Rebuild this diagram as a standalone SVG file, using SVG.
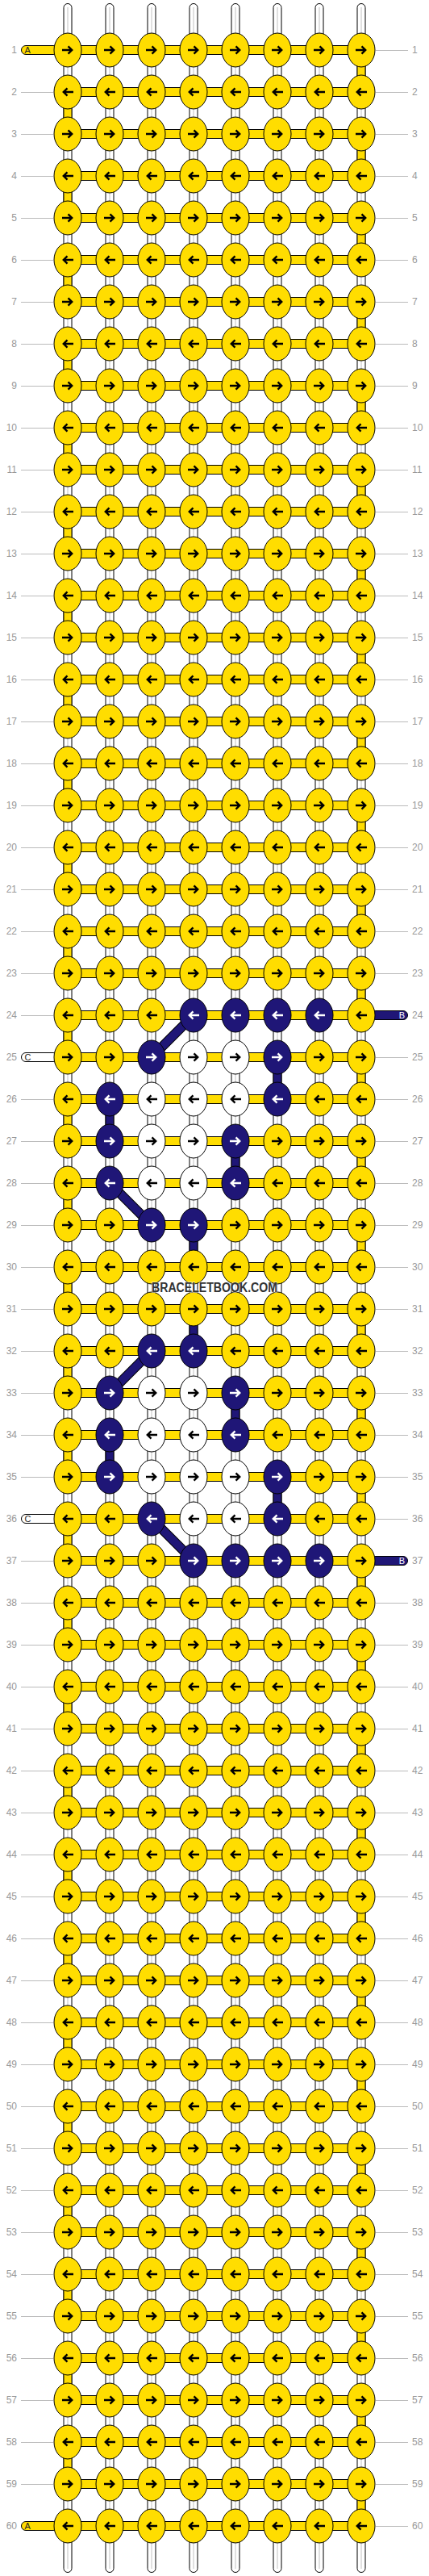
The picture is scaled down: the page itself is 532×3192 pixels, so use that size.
<svg xmlns="http://www.w3.org/2000/svg" xmlns:xlink="http://www.w3.org/1999/xlink" width="532" height="3192" viewBox="0 0 532 3192">
<style>
.ey{fill:#ffdd00;stroke:#000;stroke-width:1}
.en{fill:#1f1677;stroke:#000;stroke-width:1}
.ew{fill:#fff;stroke:#000;stroke-width:1}
.ak{fill:none;stroke:#000;stroke-width:2.4}
.aw{fill:none;stroke:#fff;stroke-width:2.4}
.st{fill:#fff;stroke:#000;stroke-width:1}
.sg{stroke:#cccccc;stroke-width:1.2}
.cy{fill:#ffdd00;stroke:#000;stroke-width:1}
.cn{fill:#1f1677;stroke:#000;stroke-width:1}
.gl{stroke:#bbb;stroke-width:1;fill:none}
.lb{font-family:"Liberation Sans",Arial,sans-serif;font-size:12px;fill:#999}
.le{text-anchor:end}
.ld{font-family:"Liberation Sans",Arial,sans-serif;font-size:11px}
</style>
<defs>
<path id="ar" d="M-7 0H5M0.5 -4.6L5.2 0L0.5 4.6"/>
<g id="YR"><ellipse class="ey" rx="17" ry="21"/><use href="#ar" class="ak"/></g>
<g id="YL"><ellipse class="ey" rx="17" ry="21"/><use href="#ar" class="ak" transform="scale(-1 1)"/></g>
<g id="NR"><ellipse class="en" rx="17" ry="21"/><use href="#ar" class="aw"/></g>
<g id="NL"><ellipse class="en" rx="17" ry="21"/><use href="#ar" class="aw" transform="scale(-1 1)"/></g>
<g id="WR"><ellipse class="ew" rx="17" ry="21"/><use href="#ar" class="ak"/></g>
<g id="WL"><ellipse class="ew" rx="17" ry="21"/><use href="#ar" class="ak" transform="scale(-1 1)"/></g>
</defs>
<rect width="532" height="3192" fill="#fff"/>
<g id="connectors">
<g id="strands">
<rect class="st" x="79" y="4.5" width="10" height="3183" rx="5"/><rect class="st" x="131" y="4.5" width="10" height="3183" rx="5"/><rect class="st" x="183" y="4.5" width="10" height="3183" rx="5"/><rect class="st" x="235" y="4.5" width="10" height="3183" rx="5"/><rect class="st" x="287" y="4.5" width="10" height="3183" rx="5"/><rect class="st" x="339" y="4.5" width="10" height="3183" rx="5"/><rect class="st" x="391" y="4.5" width="10" height="3183" rx="5"/><rect class="st" x="443" y="4.5" width="10" height="3183" rx="5"/>
<path class="sg" d="M84 9V3183M136 9V3183M188 9V3183M240 9V3183M292 9V3183M344 9V3183M396 9V3183M448 9V3183"/>
</g>
<path id="rows" class="cy" d="M84 56.5h364v11h-364zM84 108.5h364v11h-364zM84 160.5h364v11h-364zM84 212.5h364v11h-364zM84 264.5h364v11h-364zM84 316.5h364v11h-364zM84 368.5h364v11h-364zM84 420.5h364v11h-364zM84 472.5h364v11h-364zM84 524.5h364v11h-364zM84 576.5h364v11h-364zM84 628.5h364v11h-364zM84 680.5h364v11h-364zM84 732.5h364v11h-364zM84 784.5h364v11h-364zM84 836.5h364v11h-364zM84 888.5h364v11h-364zM84 940.5h364v11h-364zM84 992.5h364v11h-364zM84 1044.5h364v11h-364zM84 1096.5h364v11h-364zM84 1148.5h364v11h-364zM84 1200.5h364v11h-364zM84 1252.5h364v11h-364zM84 1304.5h364v11h-364zM84 1356.5h364v11h-364zM84 1408.5h364v11h-364zM84 1460.5h364v11h-364zM84 1512.5h364v11h-364zM84 1564.5h364v11h-364zM84 1616.5h364v11h-364zM84 1668.5h364v11h-364zM84 1720.5h364v11h-364zM84 1772.5h364v11h-364zM84 1824.5h364v11h-364zM84 1876.5h364v11h-364zM84 1928.5h364v11h-364zM84 1980.5h364v11h-364zM84 2032.5h364v11h-364zM84 2084.5h364v11h-364zM84 2136.5h364v11h-364zM84 2188.5h364v11h-364zM84 2240.5h364v11h-364zM84 2292.5h364v11h-364zM84 2344.5h364v11h-364zM84 2396.5h364v11h-364zM84 2448.5h364v11h-364zM84 2500.5h364v11h-364zM84 2552.5h364v11h-364zM84 2604.5h364v11h-364zM84 2656.5h364v11h-364zM84 2708.5h364v11h-364zM84 2760.5h364v11h-364zM84 2812.5h364v11h-364zM84 2864.5h364v11h-364zM84 2916.5h364v11h-364zM84 2968.5h364v11h-364zM84 3020.5h364v11h-364zM84 3072.5h364v11h-364zM84 3124.5h364v11h-364z"/>
<path id="turns" class="cy" d="M443 62h10v52h-10zM79 114h10v52h-10zM443 166h10v52h-10zM79 218h10v52h-10zM443 270h10v52h-10zM79 322h10v52h-10zM443 374h10v52h-10zM79 426h10v52h-10zM443 478h10v52h-10zM79 530h10v52h-10zM443 582h10v52h-10zM79 634h10v52h-10zM443 686h10v52h-10zM79 738h10v52h-10zM443 790h10v52h-10zM79 842h10v52h-10zM443 894h10v52h-10zM79 946h10v52h-10zM443 998h10v52h-10zM79 1050h10v52h-10zM443 1102h10v52h-10zM79 1154h10v52h-10zM443 1206h10v52h-10zM79 1258h10v52h-10zM443 1310h10v52h-10zM79 1362h10v52h-10zM443 1414h10v52h-10zM79 1466h10v52h-10zM443 1518h10v52h-10zM79 1570h10v52h-10zM443 1622h10v52h-10zM79 1674h10v52h-10zM443 1726h10v52h-10zM79 1778h10v52h-10zM443 1830h10v52h-10zM79 1882h10v52h-10zM443 1934h10v52h-10zM79 1986h10v52h-10zM443 2038h10v52h-10zM79 2090h10v52h-10zM443 2142h10v52h-10zM79 2194h10v52h-10zM443 2246h10v52h-10zM79 2298h10v52h-10zM443 2350h10v52h-10zM79 2402h10v52h-10zM443 2454h10v52h-10zM79 2506h10v52h-10zM443 2558h10v52h-10zM79 2610h10v52h-10zM443 2662h10v52h-10zM79 2714h10v52h-10zM443 2766h10v52h-10zM79 2818h10v52h-10zM443 2870h10v52h-10zM79 2922h10v52h-10zM443 2974h10v52h-10zM79 3026h10v52h-10zM443 3078h10v52h-10z"/>
<path id="navyv" class="cn" d="M339 1310h10v52h-10zM131 1362h10v52h-10zM287 1414h10v52h-10zM235 1518h10v52h-10zM235 1622h10v52h-10zM287 1726h10v52h-10zM131 1778h10v52h-10zM339 1830h10v52h-10z"/>
<g id="diag">
<path d="M240 1258L188 1310M136 1466L188 1518M188 1674L136 1726M188 1882L240 1934" stroke="#000" stroke-width="12" fill="none"/>
<path d="M240 1258L188 1310M136 1466L188 1518M188 1674L136 1726M188 1882L240 1934" stroke="#1f1677" stroke-width="10" fill="none"/>
</g>
<g id="leads">
<rect class="cy" x="26.5" y="56.5" width="45" height="11" rx="5.5"/><text class="ld" x="30.5" y="66" fill="#222">A</text>
<rect class="cy" x="26.5" y="3124.5" width="45" height="11" rx="5.5"/><text class="ld" x="30.5" y="3134" fill="#222">A</text>
<rect class="st" x="26.5" y="1304.5" width="45" height="11" rx="5.5"/><text class="ld" x="30.5" y="1314" fill="#222">C</text>
<rect class="st" x="26.5" y="1876.5" width="45" height="11" rx="5.5"/><text class="ld" x="30.5" y="1886" fill="#222">C</text>
<rect class="cn" x="460.5" y="1252.5" width="45" height="11" rx="5.5"/><text class="ld le" x="502" y="1262" fill="#fff">B</text>
<rect class="cn" x="460.5" y="1928.5" width="45" height="11" rx="5.5"/><text class="ld le" x="502" y="1938" fill="#fff">B</text>
</g>
</g>
<g id="labels">
<path class="gl" d="M26 114.5H66M26 166.5H66M26 218.5H66M26 270.5H66M26 322.5H66M26 374.5H66M26 426.5H66M26 478.5H66M26 530.5H66M26 582.5H66M26 634.5H66M26 686.5H66M26 738.5H66M26 790.5H66M26 842.5H66M26 894.5H66M26 946.5H66M26 998.5H66M26 1050.5H66M26 1102.5H66M26 1154.5H66M26 1206.5H66M26 1258.5H66M26 1362.5H66M26 1414.5H66M26 1466.5H66M26 1518.5H66M26 1570.5H66M26 1622.5H66M26 1674.5H66M26 1726.5H66M26 1778.5H66M26 1830.5H66M26 1934.5H66M26 1986.5H66M26 2038.5H66M26 2090.5H66M26 2142.5H66M26 2194.5H66M26 2246.5H66M26 2298.5H66M26 2350.5H66M26 2402.5H66M26 2454.5H66M26 2506.5H66M26 2558.5H66M26 2610.5H66M26 2662.5H66M26 2714.5H66M26 2766.5H66M26 2818.5H66M26 2870.5H66M26 2922.5H66M26 2974.5H66M26 3026.5H66M26 3078.5H66"/>
<path class="gl" d="M466 62.5H506M466 114.5H506M466 166.5H506M466 218.5H506M466 270.5H506M466 322.5H506M466 374.5H506M466 426.5H506M466 478.5H506M466 530.5H506M466 582.5H506M466 634.5H506M466 686.5H506M466 738.5H506M466 790.5H506M466 842.5H506M466 894.5H506M466 946.5H506M466 998.5H506M466 1050.5H506M466 1102.5H506M466 1154.5H506M466 1206.5H506M466 1310.5H506M466 1362.5H506M466 1414.5H506M466 1466.5H506M466 1518.5H506M466 1570.5H506M466 1622.5H506M466 1674.5H506M466 1726.5H506M466 1778.5H506M466 1830.5H506M466 1882.5H506M466 1986.5H506M466 2038.5H506M466 2090.5H506M466 2142.5H506M466 2194.5H506M466 2246.5H506M466 2298.5H506M466 2350.5H506M466 2402.5H506M466 2454.5H506M466 2506.5H506M466 2558.5H506M466 2610.5H506M466 2662.5H506M466 2714.5H506M466 2766.5H506M466 2818.5H506M466 2870.5H506M466 2922.5H506M466 2974.5H506M466 3026.5H506M466 3078.5H506M466 3130.5H506"/>
<g class="lb le">
<text x="21" y="66">1</text><text x="21" y="118">2</text><text x="21" y="170">3</text><text x="21" y="222">4</text><text x="21" y="274">5</text><text x="21" y="326">6</text><text x="21" y="378">7</text><text x="21" y="430">8</text><text x="21" y="482">9</text><text x="21" y="534">10</text><text x="21" y="586">11</text><text x="21" y="638">12</text><text x="21" y="690">13</text><text x="21" y="742">14</text><text x="21" y="794">15</text><text x="21" y="846">16</text><text x="21" y="898">17</text><text x="21" y="950">18</text><text x="21" y="1002">19</text><text x="21" y="1054">20</text><text x="21" y="1106">21</text><text x="21" y="1158">22</text><text x="21" y="1210">23</text><text x="21" y="1262">24</text><text x="21" y="1314">25</text><text x="21" y="1366">26</text><text x="21" y="1418">27</text><text x="21" y="1470">28</text><text x="21" y="1522">29</text><text x="21" y="1574">30</text><text x="21" y="1626">31</text><text x="21" y="1678">32</text><text x="21" y="1730">33</text><text x="21" y="1782">34</text><text x="21" y="1834">35</text><text x="21" y="1886">36</text><text x="21" y="1938">37</text><text x="21" y="1990">38</text><text x="21" y="2042">39</text><text x="21" y="2094">40</text><text x="21" y="2146">41</text><text x="21" y="2198">42</text><text x="21" y="2250">43</text><text x="21" y="2302">44</text><text x="21" y="2354">45</text><text x="21" y="2406">46</text><text x="21" y="2458">47</text><text x="21" y="2510">48</text><text x="21" y="2562">49</text><text x="21" y="2614">50</text><text x="21" y="2666">51</text><text x="21" y="2718">52</text><text x="21" y="2770">53</text><text x="21" y="2822">54</text><text x="21" y="2874">55</text><text x="21" y="2926">56</text><text x="21" y="2978">57</text><text x="21" y="3030">58</text><text x="21" y="3082">59</text><text x="21" y="3134">60</text>
</g>
<g class="lb">
<text x="511" y="66">1</text><text x="511" y="118">2</text><text x="511" y="170">3</text><text x="511" y="222">4</text><text x="511" y="274">5</text><text x="511" y="326">6</text><text x="511" y="378">7</text><text x="511" y="430">8</text><text x="511" y="482">9</text><text x="511" y="534">10</text><text x="511" y="586">11</text><text x="511" y="638">12</text><text x="511" y="690">13</text><text x="511" y="742">14</text><text x="511" y="794">15</text><text x="511" y="846">16</text><text x="511" y="898">17</text><text x="511" y="950">18</text><text x="511" y="1002">19</text><text x="511" y="1054">20</text><text x="511" y="1106">21</text><text x="511" y="1158">22</text><text x="511" y="1210">23</text><text x="511" y="1262">24</text><text x="511" y="1314">25</text><text x="511" y="1366">26</text><text x="511" y="1418">27</text><text x="511" y="1470">28</text><text x="511" y="1522">29</text><text x="511" y="1574">30</text><text x="511" y="1626">31</text><text x="511" y="1678">32</text><text x="511" y="1730">33</text><text x="511" y="1782">34</text><text x="511" y="1834">35</text><text x="511" y="1886">36</text><text x="511" y="1938">37</text><text x="511" y="1990">38</text><text x="511" y="2042">39</text><text x="511" y="2094">40</text><text x="511" y="2146">41</text><text x="511" y="2198">42</text><text x="511" y="2250">43</text><text x="511" y="2302">44</text><text x="511" y="2354">45</text><text x="511" y="2406">46</text><text x="511" y="2458">47</text><text x="511" y="2510">48</text><text x="511" y="2562">49</text><text x="511" y="2614">50</text><text x="511" y="2666">51</text><text x="511" y="2718">52</text><text x="511" y="2770">53</text><text x="511" y="2822">54</text><text x="511" y="2874">55</text><text x="511" y="2926">56</text><text x="511" y="2978">57</text><text x="511" y="3030">58</text><text x="511" y="3082">59</text><text x="511" y="3134">60</text>
</g>
</g>
<g id="nodes">
<g id="row1" transform="translate(0 62)"><g id="n1_1"><use href="#YR" x="84"/></g><g id="n1_2"><use href="#YR" x="136"/></g><g id="n1_3"><use href="#YR" x="188"/></g><g id="n1_4"><use href="#YR" x="240"/></g><g id="n1_5"><use href="#YR" x="292"/></g><g id="n1_6"><use href="#YR" x="344"/></g><g id="n1_7"><use href="#YR" x="396"/></g><g id="n1_8"><use href="#YR" x="448"/></g></g>
<g id="row2" transform="translate(0 114)"><g id="n2_1"><use href="#YL" x="84"/></g><g id="n2_2"><use href="#YL" x="136"/></g><g id="n2_3"><use href="#YL" x="188"/></g><g id="n2_4"><use href="#YL" x="240"/></g><g id="n2_5"><use href="#YL" x="292"/></g><g id="n2_6"><use href="#YL" x="344"/></g><g id="n2_7"><use href="#YL" x="396"/></g><g id="n2_8"><use href="#YL" x="448"/></g></g>
<g id="row3" transform="translate(0 166)"><g id="n3_1"><use href="#YR" x="84"/></g><g id="n3_2"><use href="#YR" x="136"/></g><g id="n3_3"><use href="#YR" x="188"/></g><g id="n3_4"><use href="#YR" x="240"/></g><g id="n3_5"><use href="#YR" x="292"/></g><g id="n3_6"><use href="#YR" x="344"/></g><g id="n3_7"><use href="#YR" x="396"/></g><g id="n3_8"><use href="#YR" x="448"/></g></g>
<g id="row4" transform="translate(0 218)"><g id="n4_1"><use href="#YL" x="84"/></g><g id="n4_2"><use href="#YL" x="136"/></g><g id="n4_3"><use href="#YL" x="188"/></g><g id="n4_4"><use href="#YL" x="240"/></g><g id="n4_5"><use href="#YL" x="292"/></g><g id="n4_6"><use href="#YL" x="344"/></g><g id="n4_7"><use href="#YL" x="396"/></g><g id="n4_8"><use href="#YL" x="448"/></g></g>
<g id="row5" transform="translate(0 270)"><g id="n5_1"><use href="#YR" x="84"/></g><g id="n5_2"><use href="#YR" x="136"/></g><g id="n5_3"><use href="#YR" x="188"/></g><g id="n5_4"><use href="#YR" x="240"/></g><g id="n5_5"><use href="#YR" x="292"/></g><g id="n5_6"><use href="#YR" x="344"/></g><g id="n5_7"><use href="#YR" x="396"/></g><g id="n5_8"><use href="#YR" x="448"/></g></g>
<g id="row6" transform="translate(0 322)"><g id="n6_1"><use href="#YL" x="84"/></g><g id="n6_2"><use href="#YL" x="136"/></g><g id="n6_3"><use href="#YL" x="188"/></g><g id="n6_4"><use href="#YL" x="240"/></g><g id="n6_5"><use href="#YL" x="292"/></g><g id="n6_6"><use href="#YL" x="344"/></g><g id="n6_7"><use href="#YL" x="396"/></g><g id="n6_8"><use href="#YL" x="448"/></g></g>
<g id="row7" transform="translate(0 374)"><g id="n7_1"><use href="#YR" x="84"/></g><g id="n7_2"><use href="#YR" x="136"/></g><g id="n7_3"><use href="#YR" x="188"/></g><g id="n7_4"><use href="#YR" x="240"/></g><g id="n7_5"><use href="#YR" x="292"/></g><g id="n7_6"><use href="#YR" x="344"/></g><g id="n7_7"><use href="#YR" x="396"/></g><g id="n7_8"><use href="#YR" x="448"/></g></g>
<g id="row8" transform="translate(0 426)"><g id="n8_1"><use href="#YL" x="84"/></g><g id="n8_2"><use href="#YL" x="136"/></g><g id="n8_3"><use href="#YL" x="188"/></g><g id="n8_4"><use href="#YL" x="240"/></g><g id="n8_5"><use href="#YL" x="292"/></g><g id="n8_6"><use href="#YL" x="344"/></g><g id="n8_7"><use href="#YL" x="396"/></g><g id="n8_8"><use href="#YL" x="448"/></g></g>
<g id="row9" transform="translate(0 478)"><g id="n9_1"><use href="#YR" x="84"/></g><g id="n9_2"><use href="#YR" x="136"/></g><g id="n9_3"><use href="#YR" x="188"/></g><g id="n9_4"><use href="#YR" x="240"/></g><g id="n9_5"><use href="#YR" x="292"/></g><g id="n9_6"><use href="#YR" x="344"/></g><g id="n9_7"><use href="#YR" x="396"/></g><g id="n9_8"><use href="#YR" x="448"/></g></g>
<g id="row10" transform="translate(0 530)"><g id="n10_1"><use href="#YL" x="84"/></g><g id="n10_2"><use href="#YL" x="136"/></g><g id="n10_3"><use href="#YL" x="188"/></g><g id="n10_4"><use href="#YL" x="240"/></g><g id="n10_5"><use href="#YL" x="292"/></g><g id="n10_6"><use href="#YL" x="344"/></g><g id="n10_7"><use href="#YL" x="396"/></g><g id="n10_8"><use href="#YL" x="448"/></g></g>
<g id="row11" transform="translate(0 582)"><g id="n11_1"><use href="#YR" x="84"/></g><g id="n11_2"><use href="#YR" x="136"/></g><g id="n11_3"><use href="#YR" x="188"/></g><g id="n11_4"><use href="#YR" x="240"/></g><g id="n11_5"><use href="#YR" x="292"/></g><g id="n11_6"><use href="#YR" x="344"/></g><g id="n11_7"><use href="#YR" x="396"/></g><g id="n11_8"><use href="#YR" x="448"/></g></g>
<g id="row12" transform="translate(0 634)"><g id="n12_1"><use href="#YL" x="84"/></g><g id="n12_2"><use href="#YL" x="136"/></g><g id="n12_3"><use href="#YL" x="188"/></g><g id="n12_4"><use href="#YL" x="240"/></g><g id="n12_5"><use href="#YL" x="292"/></g><g id="n12_6"><use href="#YL" x="344"/></g><g id="n12_7"><use href="#YL" x="396"/></g><g id="n12_8"><use href="#YL" x="448"/></g></g>
<g id="row13" transform="translate(0 686)"><g id="n13_1"><use href="#YR" x="84"/></g><g id="n13_2"><use href="#YR" x="136"/></g><g id="n13_3"><use href="#YR" x="188"/></g><g id="n13_4"><use href="#YR" x="240"/></g><g id="n13_5"><use href="#YR" x="292"/></g><g id="n13_6"><use href="#YR" x="344"/></g><g id="n13_7"><use href="#YR" x="396"/></g><g id="n13_8"><use href="#YR" x="448"/></g></g>
<g id="row14" transform="translate(0 738)"><g id="n14_1"><use href="#YL" x="84"/></g><g id="n14_2"><use href="#YL" x="136"/></g><g id="n14_3"><use href="#YL" x="188"/></g><g id="n14_4"><use href="#YL" x="240"/></g><g id="n14_5"><use href="#YL" x="292"/></g><g id="n14_6"><use href="#YL" x="344"/></g><g id="n14_7"><use href="#YL" x="396"/></g><g id="n14_8"><use href="#YL" x="448"/></g></g>
<g id="row15" transform="translate(0 790)"><g id="n15_1"><use href="#YR" x="84"/></g><g id="n15_2"><use href="#YR" x="136"/></g><g id="n15_3"><use href="#YR" x="188"/></g><g id="n15_4"><use href="#YR" x="240"/></g><g id="n15_5"><use href="#YR" x="292"/></g><g id="n15_6"><use href="#YR" x="344"/></g><g id="n15_7"><use href="#YR" x="396"/></g><g id="n15_8"><use href="#YR" x="448"/></g></g>
<g id="row16" transform="translate(0 842)"><g id="n16_1"><use href="#YL" x="84"/></g><g id="n16_2"><use href="#YL" x="136"/></g><g id="n16_3"><use href="#YL" x="188"/></g><g id="n16_4"><use href="#YL" x="240"/></g><g id="n16_5"><use href="#YL" x="292"/></g><g id="n16_6"><use href="#YL" x="344"/></g><g id="n16_7"><use href="#YL" x="396"/></g><g id="n16_8"><use href="#YL" x="448"/></g></g>
<g id="row17" transform="translate(0 894)"><g id="n17_1"><use href="#YR" x="84"/></g><g id="n17_2"><use href="#YR" x="136"/></g><g id="n17_3"><use href="#YR" x="188"/></g><g id="n17_4"><use href="#YR" x="240"/></g><g id="n17_5"><use href="#YR" x="292"/></g><g id="n17_6"><use href="#YR" x="344"/></g><g id="n17_7"><use href="#YR" x="396"/></g><g id="n17_8"><use href="#YR" x="448"/></g></g>
<g id="row18" transform="translate(0 946)"><g id="n18_1"><use href="#YL" x="84"/></g><g id="n18_2"><use href="#YL" x="136"/></g><g id="n18_3"><use href="#YL" x="188"/></g><g id="n18_4"><use href="#YL" x="240"/></g><g id="n18_5"><use href="#YL" x="292"/></g><g id="n18_6"><use href="#YL" x="344"/></g><g id="n18_7"><use href="#YL" x="396"/></g><g id="n18_8"><use href="#YL" x="448"/></g></g>
<g id="row19" transform="translate(0 998)"><g id="n19_1"><use href="#YR" x="84"/></g><g id="n19_2"><use href="#YR" x="136"/></g><g id="n19_3"><use href="#YR" x="188"/></g><g id="n19_4"><use href="#YR" x="240"/></g><g id="n19_5"><use href="#YR" x="292"/></g><g id="n19_6"><use href="#YR" x="344"/></g><g id="n19_7"><use href="#YR" x="396"/></g><g id="n19_8"><use href="#YR" x="448"/></g></g>
<g id="row20" transform="translate(0 1050)"><g id="n20_1"><use href="#YL" x="84"/></g><g id="n20_2"><use href="#YL" x="136"/></g><g id="n20_3"><use href="#YL" x="188"/></g><g id="n20_4"><use href="#YL" x="240"/></g><g id="n20_5"><use href="#YL" x="292"/></g><g id="n20_6"><use href="#YL" x="344"/></g><g id="n20_7"><use href="#YL" x="396"/></g><g id="n20_8"><use href="#YL" x="448"/></g></g>
<g id="row21" transform="translate(0 1102)"><g id="n21_1"><use href="#YR" x="84"/></g><g id="n21_2"><use href="#YR" x="136"/></g><g id="n21_3"><use href="#YR" x="188"/></g><g id="n21_4"><use href="#YR" x="240"/></g><g id="n21_5"><use href="#YR" x="292"/></g><g id="n21_6"><use href="#YR" x="344"/></g><g id="n21_7"><use href="#YR" x="396"/></g><g id="n21_8"><use href="#YR" x="448"/></g></g>
<g id="row22" transform="translate(0 1154)"><g id="n22_1"><use href="#YL" x="84"/></g><g id="n22_2"><use href="#YL" x="136"/></g><g id="n22_3"><use href="#YL" x="188"/></g><g id="n22_4"><use href="#YL" x="240"/></g><g id="n22_5"><use href="#YL" x="292"/></g><g id="n22_6"><use href="#YL" x="344"/></g><g id="n22_7"><use href="#YL" x="396"/></g><g id="n22_8"><use href="#YL" x="448"/></g></g>
<g id="row23" transform="translate(0 1206)"><g id="n23_1"><use href="#YR" x="84"/></g><g id="n23_2"><use href="#YR" x="136"/></g><g id="n23_3"><use href="#YR" x="188"/></g><g id="n23_4"><use href="#YR" x="240"/></g><g id="n23_5"><use href="#YR" x="292"/></g><g id="n23_6"><use href="#YR" x="344"/></g><g id="n23_7"><use href="#YR" x="396"/></g><g id="n23_8"><use href="#YR" x="448"/></g></g>
<g id="row24" transform="translate(0 1258)"><g id="n24_1"><use href="#YL" x="84"/></g><g id="n24_2"><use href="#YL" x="136"/></g><g id="n24_3"><use href="#YL" x="188"/></g><g id="n24_4"><use href="#NL" x="240"/></g><g id="n24_5"><use href="#NL" x="292"/></g><g id="n24_6"><use href="#NL" x="344"/></g><g id="n24_7"><use href="#NL" x="396"/></g><g id="n24_8"><use href="#YL" x="448"/></g></g>
<g id="row25" transform="translate(0 1310)"><g id="n25_1"><use href="#YR" x="84"/></g><g id="n25_2"><use href="#YR" x="136"/></g><g id="n25_3"><use href="#NR" x="188"/></g><g id="n25_4"><use href="#WR" x="240"/></g><g id="n25_5"><use href="#WR" x="292"/></g><g id="n25_6"><use href="#NR" x="344"/></g><g id="n25_7"><use href="#YR" x="396"/></g><g id="n25_8"><use href="#YR" x="448"/></g></g>
<g id="row26" transform="translate(0 1362)"><g id="n26_1"><use href="#YL" x="84"/></g><g id="n26_2"><use href="#NL" x="136"/></g><g id="n26_3"><use href="#WL" x="188"/></g><g id="n26_4"><use href="#WL" x="240"/></g><g id="n26_5"><use href="#WL" x="292"/></g><g id="n26_6"><use href="#NL" x="344"/></g><g id="n26_7"><use href="#YL" x="396"/></g><g id="n26_8"><use href="#YL" x="448"/></g></g>
<g id="row27" transform="translate(0 1414)"><g id="n27_1"><use href="#YR" x="84"/></g><g id="n27_2"><use href="#NR" x="136"/></g><g id="n27_3"><use href="#WR" x="188"/></g><g id="n27_4"><use href="#WR" x="240"/></g><g id="n27_5"><use href="#NR" x="292"/></g><g id="n27_6"><use href="#YR" x="344"/></g><g id="n27_7"><use href="#YR" x="396"/></g><g id="n27_8"><use href="#YR" x="448"/></g></g>
<g id="row28" transform="translate(0 1466)"><g id="n28_1"><use href="#YL" x="84"/></g><g id="n28_2"><use href="#NL" x="136"/></g><g id="n28_3"><use href="#WL" x="188"/></g><g id="n28_4"><use href="#WL" x="240"/></g><g id="n28_5"><use href="#NL" x="292"/></g><g id="n28_6"><use href="#YL" x="344"/></g><g id="n28_7"><use href="#YL" x="396"/></g><g id="n28_8"><use href="#YL" x="448"/></g></g>
<g id="row29" transform="translate(0 1518)"><g id="n29_1"><use href="#YR" x="84"/></g><g id="n29_2"><use href="#YR" x="136"/></g><g id="n29_3"><use href="#NR" x="188"/></g><g id="n29_4"><use href="#NR" x="240"/></g><g id="n29_5"><use href="#YR" x="292"/></g><g id="n29_6"><use href="#YR" x="344"/></g><g id="n29_7"><use href="#YR" x="396"/></g><g id="n29_8"><use href="#YR" x="448"/></g></g>
<g id="row30" transform="translate(0 1570)"><g id="n30_1"><use href="#YL" x="84"/></g><g id="n30_2"><use href="#YL" x="136"/></g><g id="n30_3"><use href="#YL" x="188"/></g><g id="n30_4"><use href="#YL" x="240"/></g><g id="n30_5"><use href="#YL" x="292"/></g><g id="n30_6"><use href="#YL" x="344"/></g><g id="n30_7"><use href="#YL" x="396"/></g><g id="n30_8"><use href="#YL" x="448"/></g></g>
<g id="row31" transform="translate(0 1622)"><g id="n31_1"><use href="#YR" x="84"/></g><g id="n31_2"><use href="#YR" x="136"/></g><g id="n31_3"><use href="#YR" x="188"/></g><g id="n31_4"><use href="#YR" x="240"/></g><g id="n31_5"><use href="#YR" x="292"/></g><g id="n31_6"><use href="#YR" x="344"/></g><g id="n31_7"><use href="#YR" x="396"/></g><g id="n31_8"><use href="#YR" x="448"/></g></g>
<g id="row32" transform="translate(0 1674)"><g id="n32_1"><use href="#YL" x="84"/></g><g id="n32_2"><use href="#YL" x="136"/></g><g id="n32_3"><use href="#NL" x="188"/></g><g id="n32_4"><use href="#NL" x="240"/></g><g id="n32_5"><use href="#YL" x="292"/></g><g id="n32_6"><use href="#YL" x="344"/></g><g id="n32_7"><use href="#YL" x="396"/></g><g id="n32_8"><use href="#YL" x="448"/></g></g>
<g id="row33" transform="translate(0 1726)"><g id="n33_1"><use href="#YR" x="84"/></g><g id="n33_2"><use href="#NR" x="136"/></g><g id="n33_3"><use href="#WR" x="188"/></g><g id="n33_4"><use href="#WR" x="240"/></g><g id="n33_5"><use href="#NR" x="292"/></g><g id="n33_6"><use href="#YR" x="344"/></g><g id="n33_7"><use href="#YR" x="396"/></g><g id="n33_8"><use href="#YR" x="448"/></g></g>
<g id="row34" transform="translate(0 1778)"><g id="n34_1"><use href="#YL" x="84"/></g><g id="n34_2"><use href="#NL" x="136"/></g><g id="n34_3"><use href="#WL" x="188"/></g><g id="n34_4"><use href="#WL" x="240"/></g><g id="n34_5"><use href="#NL" x="292"/></g><g id="n34_6"><use href="#YL" x="344"/></g><g id="n34_7"><use href="#YL" x="396"/></g><g id="n34_8"><use href="#YL" x="448"/></g></g>
<g id="row35" transform="translate(0 1830)"><g id="n35_1"><use href="#YR" x="84"/></g><g id="n35_2"><use href="#NR" x="136"/></g><g id="n35_3"><use href="#WR" x="188"/></g><g id="n35_4"><use href="#WR" x="240"/></g><g id="n35_5"><use href="#WR" x="292"/></g><g id="n35_6"><use href="#NR" x="344"/></g><g id="n35_7"><use href="#YR" x="396"/></g><g id="n35_8"><use href="#YR" x="448"/></g></g>
<g id="row36" transform="translate(0 1882)"><g id="n36_1"><use href="#YL" x="84"/></g><g id="n36_2"><use href="#YL" x="136"/></g><g id="n36_3"><use href="#NL" x="188"/></g><g id="n36_4"><use href="#WL" x="240"/></g><g id="n36_5"><use href="#WL" x="292"/></g><g id="n36_6"><use href="#NL" x="344"/></g><g id="n36_7"><use href="#YL" x="396"/></g><g id="n36_8"><use href="#YL" x="448"/></g></g>
<g id="row37" transform="translate(0 1934)"><g id="n37_1"><use href="#YR" x="84"/></g><g id="n37_2"><use href="#YR" x="136"/></g><g id="n37_3"><use href="#YR" x="188"/></g><g id="n37_4"><use href="#NR" x="240"/></g><g id="n37_5"><use href="#NR" x="292"/></g><g id="n37_6"><use href="#NR" x="344"/></g><g id="n37_7"><use href="#NR" x="396"/></g><g id="n37_8"><use href="#YR" x="448"/></g></g>
<g id="row38" transform="translate(0 1986)"><g id="n38_1"><use href="#YL" x="84"/></g><g id="n38_2"><use href="#YL" x="136"/></g><g id="n38_3"><use href="#YL" x="188"/></g><g id="n38_4"><use href="#YL" x="240"/></g><g id="n38_5"><use href="#YL" x="292"/></g><g id="n38_6"><use href="#YL" x="344"/></g><g id="n38_7"><use href="#YL" x="396"/></g><g id="n38_8"><use href="#YL" x="448"/></g></g>
<g id="row39" transform="translate(0 2038)"><g id="n39_1"><use href="#YR" x="84"/></g><g id="n39_2"><use href="#YR" x="136"/></g><g id="n39_3"><use href="#YR" x="188"/></g><g id="n39_4"><use href="#YR" x="240"/></g><g id="n39_5"><use href="#YR" x="292"/></g><g id="n39_6"><use href="#YR" x="344"/></g><g id="n39_7"><use href="#YR" x="396"/></g><g id="n39_8"><use href="#YR" x="448"/></g></g>
<g id="row40" transform="translate(0 2090)"><g id="n40_1"><use href="#YL" x="84"/></g><g id="n40_2"><use href="#YL" x="136"/></g><g id="n40_3"><use href="#YL" x="188"/></g><g id="n40_4"><use href="#YL" x="240"/></g><g id="n40_5"><use href="#YL" x="292"/></g><g id="n40_6"><use href="#YL" x="344"/></g><g id="n40_7"><use href="#YL" x="396"/></g><g id="n40_8"><use href="#YL" x="448"/></g></g>
<g id="row41" transform="translate(0 2142)"><g id="n41_1"><use href="#YR" x="84"/></g><g id="n41_2"><use href="#YR" x="136"/></g><g id="n41_3"><use href="#YR" x="188"/></g><g id="n41_4"><use href="#YR" x="240"/></g><g id="n41_5"><use href="#YR" x="292"/></g><g id="n41_6"><use href="#YR" x="344"/></g><g id="n41_7"><use href="#YR" x="396"/></g><g id="n41_8"><use href="#YR" x="448"/></g></g>
<g id="row42" transform="translate(0 2194)"><g id="n42_1"><use href="#YL" x="84"/></g><g id="n42_2"><use href="#YL" x="136"/></g><g id="n42_3"><use href="#YL" x="188"/></g><g id="n42_4"><use href="#YL" x="240"/></g><g id="n42_5"><use href="#YL" x="292"/></g><g id="n42_6"><use href="#YL" x="344"/></g><g id="n42_7"><use href="#YL" x="396"/></g><g id="n42_8"><use href="#YL" x="448"/></g></g>
<g id="row43" transform="translate(0 2246)"><g id="n43_1"><use href="#YR" x="84"/></g><g id="n43_2"><use href="#YR" x="136"/></g><g id="n43_3"><use href="#YR" x="188"/></g><g id="n43_4"><use href="#YR" x="240"/></g><g id="n43_5"><use href="#YR" x="292"/></g><g id="n43_6"><use href="#YR" x="344"/></g><g id="n43_7"><use href="#YR" x="396"/></g><g id="n43_8"><use href="#YR" x="448"/></g></g>
<g id="row44" transform="translate(0 2298)"><g id="n44_1"><use href="#YL" x="84"/></g><g id="n44_2"><use href="#YL" x="136"/></g><g id="n44_3"><use href="#YL" x="188"/></g><g id="n44_4"><use href="#YL" x="240"/></g><g id="n44_5"><use href="#YL" x="292"/></g><g id="n44_6"><use href="#YL" x="344"/></g><g id="n44_7"><use href="#YL" x="396"/></g><g id="n44_8"><use href="#YL" x="448"/></g></g>
<g id="row45" transform="translate(0 2350)"><g id="n45_1"><use href="#YR" x="84"/></g><g id="n45_2"><use href="#YR" x="136"/></g><g id="n45_3"><use href="#YR" x="188"/></g><g id="n45_4"><use href="#YR" x="240"/></g><g id="n45_5"><use href="#YR" x="292"/></g><g id="n45_6"><use href="#YR" x="344"/></g><g id="n45_7"><use href="#YR" x="396"/></g><g id="n45_8"><use href="#YR" x="448"/></g></g>
<g id="row46" transform="translate(0 2402)"><g id="n46_1"><use href="#YL" x="84"/></g><g id="n46_2"><use href="#YL" x="136"/></g><g id="n46_3"><use href="#YL" x="188"/></g><g id="n46_4"><use href="#YL" x="240"/></g><g id="n46_5"><use href="#YL" x="292"/></g><g id="n46_6"><use href="#YL" x="344"/></g><g id="n46_7"><use href="#YL" x="396"/></g><g id="n46_8"><use href="#YL" x="448"/></g></g>
<g id="row47" transform="translate(0 2454)"><g id="n47_1"><use href="#YR" x="84"/></g><g id="n47_2"><use href="#YR" x="136"/></g><g id="n47_3"><use href="#YR" x="188"/></g><g id="n47_4"><use href="#YR" x="240"/></g><g id="n47_5"><use href="#YR" x="292"/></g><g id="n47_6"><use href="#YR" x="344"/></g><g id="n47_7"><use href="#YR" x="396"/></g><g id="n47_8"><use href="#YR" x="448"/></g></g>
<g id="row48" transform="translate(0 2506)"><g id="n48_1"><use href="#YL" x="84"/></g><g id="n48_2"><use href="#YL" x="136"/></g><g id="n48_3"><use href="#YL" x="188"/></g><g id="n48_4"><use href="#YL" x="240"/></g><g id="n48_5"><use href="#YL" x="292"/></g><g id="n48_6"><use href="#YL" x="344"/></g><g id="n48_7"><use href="#YL" x="396"/></g><g id="n48_8"><use href="#YL" x="448"/></g></g>
<g id="row49" transform="translate(0 2558)"><g id="n49_1"><use href="#YR" x="84"/></g><g id="n49_2"><use href="#YR" x="136"/></g><g id="n49_3"><use href="#YR" x="188"/></g><g id="n49_4"><use href="#YR" x="240"/></g><g id="n49_5"><use href="#YR" x="292"/></g><g id="n49_6"><use href="#YR" x="344"/></g><g id="n49_7"><use href="#YR" x="396"/></g><g id="n49_8"><use href="#YR" x="448"/></g></g>
<g id="row50" transform="translate(0 2610)"><g id="n50_1"><use href="#YL" x="84"/></g><g id="n50_2"><use href="#YL" x="136"/></g><g id="n50_3"><use href="#YL" x="188"/></g><g id="n50_4"><use href="#YL" x="240"/></g><g id="n50_5"><use href="#YL" x="292"/></g><g id="n50_6"><use href="#YL" x="344"/></g><g id="n50_7"><use href="#YL" x="396"/></g><g id="n50_8"><use href="#YL" x="448"/></g></g>
<g id="row51" transform="translate(0 2662)"><g id="n51_1"><use href="#YR" x="84"/></g><g id="n51_2"><use href="#YR" x="136"/></g><g id="n51_3"><use href="#YR" x="188"/></g><g id="n51_4"><use href="#YR" x="240"/></g><g id="n51_5"><use href="#YR" x="292"/></g><g id="n51_6"><use href="#YR" x="344"/></g><g id="n51_7"><use href="#YR" x="396"/></g><g id="n51_8"><use href="#YR" x="448"/></g></g>
<g id="row52" transform="translate(0 2714)"><g id="n52_1"><use href="#YL" x="84"/></g><g id="n52_2"><use href="#YL" x="136"/></g><g id="n52_3"><use href="#YL" x="188"/></g><g id="n52_4"><use href="#YL" x="240"/></g><g id="n52_5"><use href="#YL" x="292"/></g><g id="n52_6"><use href="#YL" x="344"/></g><g id="n52_7"><use href="#YL" x="396"/></g><g id="n52_8"><use href="#YL" x="448"/></g></g>
<g id="row53" transform="translate(0 2766)"><g id="n53_1"><use href="#YR" x="84"/></g><g id="n53_2"><use href="#YR" x="136"/></g><g id="n53_3"><use href="#YR" x="188"/></g><g id="n53_4"><use href="#YR" x="240"/></g><g id="n53_5"><use href="#YR" x="292"/></g><g id="n53_6"><use href="#YR" x="344"/></g><g id="n53_7"><use href="#YR" x="396"/></g><g id="n53_8"><use href="#YR" x="448"/></g></g>
<g id="row54" transform="translate(0 2818)"><g id="n54_1"><use href="#YL" x="84"/></g><g id="n54_2"><use href="#YL" x="136"/></g><g id="n54_3"><use href="#YL" x="188"/></g><g id="n54_4"><use href="#YL" x="240"/></g><g id="n54_5"><use href="#YL" x="292"/></g><g id="n54_6"><use href="#YL" x="344"/></g><g id="n54_7"><use href="#YL" x="396"/></g><g id="n54_8"><use href="#YL" x="448"/></g></g>
<g id="row55" transform="translate(0 2870)"><g id="n55_1"><use href="#YR" x="84"/></g><g id="n55_2"><use href="#YR" x="136"/></g><g id="n55_3"><use href="#YR" x="188"/></g><g id="n55_4"><use href="#YR" x="240"/></g><g id="n55_5"><use href="#YR" x="292"/></g><g id="n55_6"><use href="#YR" x="344"/></g><g id="n55_7"><use href="#YR" x="396"/></g><g id="n55_8"><use href="#YR" x="448"/></g></g>
<g id="row56" transform="translate(0 2922)"><g id="n56_1"><use href="#YL" x="84"/></g><g id="n56_2"><use href="#YL" x="136"/></g><g id="n56_3"><use href="#YL" x="188"/></g><g id="n56_4"><use href="#YL" x="240"/></g><g id="n56_5"><use href="#YL" x="292"/></g><g id="n56_6"><use href="#YL" x="344"/></g><g id="n56_7"><use href="#YL" x="396"/></g><g id="n56_8"><use href="#YL" x="448"/></g></g>
<g id="row57" transform="translate(0 2974)"><g id="n57_1"><use href="#YR" x="84"/></g><g id="n57_2"><use href="#YR" x="136"/></g><g id="n57_3"><use href="#YR" x="188"/></g><g id="n57_4"><use href="#YR" x="240"/></g><g id="n57_5"><use href="#YR" x="292"/></g><g id="n57_6"><use href="#YR" x="344"/></g><g id="n57_7"><use href="#YR" x="396"/></g><g id="n57_8"><use href="#YR" x="448"/></g></g>
<g id="row58" transform="translate(0 3026)"><g id="n58_1"><use href="#YL" x="84"/></g><g id="n58_2"><use href="#YL" x="136"/></g><g id="n58_3"><use href="#YL" x="188"/></g><g id="n58_4"><use href="#YL" x="240"/></g><g id="n58_5"><use href="#YL" x="292"/></g><g id="n58_6"><use href="#YL" x="344"/></g><g id="n58_7"><use href="#YL" x="396"/></g><g id="n58_8"><use href="#YL" x="448"/></g></g>
<g id="row59" transform="translate(0 3078)"><g id="n59_1"><use href="#YR" x="84"/></g><g id="n59_2"><use href="#YR" x="136"/></g><g id="n59_3"><use href="#YR" x="188"/></g><g id="n59_4"><use href="#YR" x="240"/></g><g id="n59_5"><use href="#YR" x="292"/></g><g id="n59_6"><use href="#YR" x="344"/></g><g id="n59_7"><use href="#YR" x="396"/></g><g id="n59_8"><use href="#YR" x="448"/></g></g>
<g id="row60" transform="translate(0 3130)"><g id="n60_1"><use href="#YL" x="84"/></g><g id="n60_2"><use href="#YL" x="136"/></g><g id="n60_3"><use href="#YL" x="188"/></g><g id="n60_4"><use href="#YL" x="240"/></g><g id="n60_5"><use href="#YL" x="292"/></g><g id="n60_6"><use href="#YL" x="344"/></g><g id="n60_7"><use href="#YL" x="396"/></g><g id="n60_8"><use href="#YL" x="448"/></g></g>
</g>
<text id="watermark" x="266" y="1601" text-anchor="middle" font-family="'Liberation Sans', Arial, sans-serif" font-weight="bold" font-size="16" textLength="156" lengthAdjust="spacingAndGlyphs" fill="#333" stroke="#fff" stroke-width="1.5" stroke-opacity="0.6" paint-order="stroke">BRACELETBOOK.COM</text>
</svg>
